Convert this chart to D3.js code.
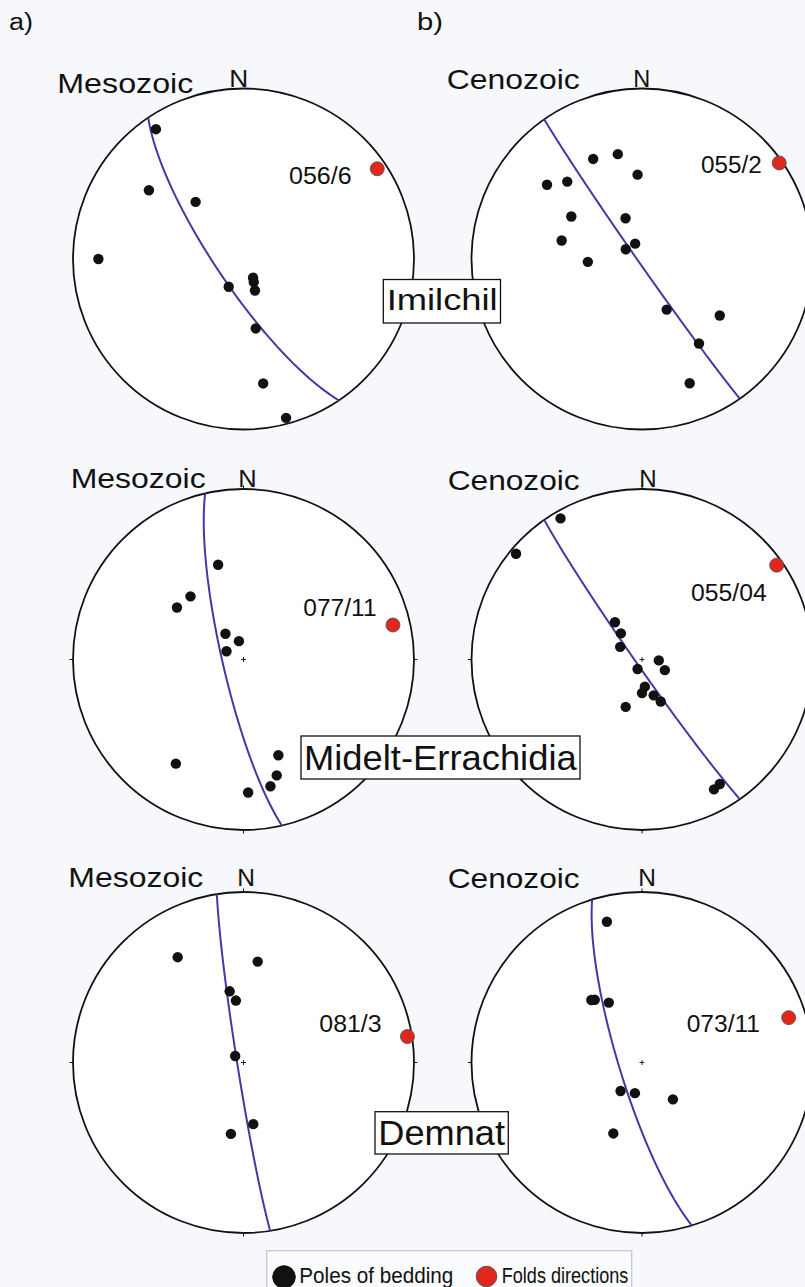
<!DOCTYPE html>
<html>
<head>
<meta charset="utf-8">
<script src="https://cdn.jsdelivr.net/npm/d3@7"></script>
<style>
  html, body { margin: 0; padding: 0; background: #f6f8fc; }
  svg { display: block; }
  text { font-family: "Liberation Sans", Arial, Helvetica, sans-serif; fill: #111; }
</style>
</head>
<body>
<svg id="chart" width="805" height="1287"></svg>
<script>
// ---- Data: poles to bedding as [trend, plunge] (degrees, lower hemisphere) ----
const imilchilMesozoic = [[326,9],[306,32],[320,54],[270,16],[208,75],[153,80],[156,78],[160,74],[170,56],[171,27],[165,4]];
const imilchilCenozoic = [[334,35],[347,37],[357,49],[308,30],[316,37],[301,50],[338,69],[283,50],[336,82],[301,81],[267,64],[154,63],[126,43],[146,40],[159,23]];
const mideltMesozoic   = [[345,42],[320,50],[308,49],[325,75],[346,81],[296,81],[213,28],[160,40],[164,30],[168,25],[178,23]];
const mideltCenozoic   = [[330,5],[310,4],[324,68],[321,74],[300,78],[205,85],[93,82],[115,78],[174,77],[180,74],[162,72],[156,68],[199,66],[148,15],[151,14]];
const demnatMesozoic   = [[328,28],[8,40],[349,55],[353,60],[308,85],[171,60],[190,55]];
const demnatCenozoic   = [[346,16],[321,51],[323,52],[331,57],[217,73],[193,75],[140,67],[202,53]];

// Fold axes (trend/plunge) and their labels, one per net
const foldAxes   = [[56,6],[55,2],[77,11],[55,4],[81,3],[73,11]];
const foldLabels = ["056/6","055/2","077/11","055/04","081/3","073/11"];

// Pi-girdles: pole of each best-fit great circle (trend/plunge)
const girdleAxes = [[56,13],[55,2],[77,10],[55,3],[81,3],[73,11]];

const regions      = ["Imilchil","Midelt-Errachidia","Demnat"];
const periods      = ["Mesozoic","Cenozoic"];
const panelLetters = ["a)","b)"];
const legendItems  = ["Poles of bedding","Folds directions"];

const polesByNet = [imilchilMesozoic, imilchilCenozoic, mideltMesozoic, mideltCenozoic, demnatMesozoic, demnatCenozoic];

// ---- Layout ----
const R = 170.5;
const colX = [243.5, 642];
const rowY = [259, 659.5, 1062.5];

const titleLayout = [
  {x:57.3,  y:92.7,  w:136}, {x:446.7, y:89.3,  w:133},
  {x:70.7,  y:488.3, w:135}, {x:447.7, y:490,   w:132},
  {x:68.3,  y:887.3, w:135}, {x:447.7, y:888.3, w:132}
];
const northLayout = [
  {x:229.3, y:87.3,  w:19},   {x:633.3, y:87.3,  w:17},
  {x:238.3, y:487.3, w:18.4}, {x:639.3, y:486.7, w:17.4},
  {x:237.3, y:886,   w:17.7}, {x:638.3, y:886,   w:17.7}
];
const foldLabelLayout = [
  {x:289,   y:184.3,  w:62.7}, {x:701,   y:173.3,  w:60.7},
  {x:303.3, y:615.7,  w:73.3}, {x:691,   y:601,    w:75.7},
  {x:319.3, y:1031.7, w:62.3}, {x:686.7, y:1031.7, w:73.3}
];
const regionLayout = [
  {x:383.3, y:279.5,  w:117.2, h:43.5, tx:386.7, ty:310,  tw:111,   fs:30},
  {x:301,   y:736,    w:279,   h:43,   tx:304,   ty:770,  tw:272.7, fs:35},
  {x:375,   y:1111.7, w:133.3, h:42.3, tx:378.3, ty:1145, tw:126.7, fs:35}
];

const svg = d3.select("#chart");
const girdleColor = "#4f33a3";
const foldColor = "#e1261c";

// trend/plunge -> geographic coords for a north-polar equal-area (Schmidt) net
const toGeo = ([trend, plunge]) => [180 - trend, plunge];

polesByNet.forEach((poles, i) => {
  const row = Math.floor(i / 2), col = i % 2;
  const cx = colX[col], cy = rowY[row];

  const projection = d3.geoAzimuthalEqualArea()
    .rotate([0, -90])
    .scale(R / Math.SQRT2)
    .translate([cx, cy])
    .clipAngle(90)
    .precision(0.1);
  const path = d3.geoPath(projection);

  const g = svg.append("g").attr("class", "net");

  // primitive circle
  g.append("circle")
    .attr("cx", cx).attr("cy", cy).attr("r", R)
    .attr("fill", "#fff").attr("stroke", "#111").attr("stroke-width", 1.8);

  // cardinal ticks and centre mark on the lower two rows
  if (row > 0) {
    [0, 90, 180, 270].forEach(az => {
      const a = az * Math.PI / 180;
      g.append("line")
        .attr("x1", cx + R * Math.sin(a)).attr("y1", cy - R * Math.cos(a))
        .attr("x2", cx + (R + 3.5) * Math.sin(a)).attr("y2", cy - (R + 3.5) * Math.cos(a))
        .attr("stroke", "#111").attr("stroke-width", 1);
    });
    g.append("path")
      .attr("d", `M${cx - 2.5},${cy}H${cx + 2.5}M${cx},${cy - 2.5}V${cy + 2.5}`)
      .attr("stroke", "#111").attr("stroke-width", 0.9);
  }

  // pi-girdle: great circle whose pole is the girdle axis
  const ring = d3.geoCircle().center(toGeo(girdleAxes[i])).radius(90).precision(0.5)();
  g.append("path")
    .datum({type: "LineString", coordinates: ring.coordinates[0]})
    .attr("d", path)
    .attr("fill", "none").attr("stroke", girdleColor).attr("stroke-width", 2);

  // poles of bedding
  g.selectAll("circle.pole").data(poles).join("circle")
    .attr("class", "pole")
    .attr("cx", d => projection(toGeo(d))[0])
    .attr("cy", d => projection(toGeo(d))[1])
    .attr("r", 5.2).attr("fill", "#111");

  // fold axis
  const fp = projection(toGeo(foldAxes[i]));
  g.append("circle")
    .attr("cx", fp[0]).attr("cy", fp[1]).attr("r", 7)
    .attr("fill", foldColor).attr("stroke", "#555").attr("stroke-width", 0.9);

  const fl = foldLabelLayout[i];
  g.append("text")
    .attr("x", fl.x).attr("y", fl.y)
    .attr("font-size", 23.5).attr("fill", "#222")
    .attr("textLength", fl.w).attr("lengthAdjust", "spacingAndGlyphs")
    .text(foldLabels[i]);

  // period title and north label
  const tl = titleLayout[i];
  g.append("text")
    .attr("x", tl.x).attr("y", tl.y)
    .attr("font-size", 28.5)
    .attr("textLength", tl.w).attr("lengthAdjust", "spacingAndGlyphs")
    .text(periods[col]);

  const nl = northLayout[i];
  g.append("text")
    .attr("x", nl.x).attr("y", nl.y)
    .attr("font-size", 23)
    .attr("textLength", nl.w).attr("lengthAdjust", "spacingAndGlyphs")
    .text("N");
});

// region name boxes, drawn over the nets
regions.forEach((name, i) => {
  const L = regionLayout[i];
  svg.append("rect")
    .attr("x", L.x).attr("y", L.y).attr("width", L.w).attr("height", L.h)
    .attr("fill", "#fff").attr("stroke", "#111").attr("stroke-width", 1.3);
  svg.append("text")
    .attr("x", L.tx).attr("y", L.ty)
    .attr("font-size", L.fs)
    .attr("textLength", L.tw).attr("lengthAdjust", "spacingAndGlyphs")
    .text(name);
});

// panel letters
const letterLayout = [{x:9, y:29.5, w:24}, {x:417, y:29.5, w:26}];
panelLetters.forEach((t, i) => {
  svg.append("text")
    .attr("x", letterLayout[i].x).attr("y", letterLayout[i].y)
    .attr("font-size", 23.5)
    .attr("textLength", letterLayout[i].w).attr("lengthAdjust", "spacingAndGlyphs")
    .text(t);
});

// legend
const legend = svg.append("g").attr("class", "legend");
legend.append("rect")
  .attr("x", 266.7).attr("y", 1250.7).attr("width", 365).attr("height", 60)
  .attr("fill", "#fafbfd").attr("stroke", "#c9c6dc").attr("stroke-width", 1.3);
const legendLayout = [
  {cx:284,   cy:1277,   r:11.3, fill:"#111",    stroke:"#111", tx:299.3, tw:154,   fs:22},
  {cx:486.5, cy:1276.5, r:10.3, fill:foldColor, stroke:"#555", tx:501.7, tw:126.7, fs:21.5}
];
legendItems.forEach((t, i) => {
  const L = legendLayout[i];
  legend.append("circle")
    .attr("cx", L.cx).attr("cy", L.cy).attr("r", L.r)
    .attr("fill", L.fill).attr("stroke", L.stroke).attr("stroke-width", 1);
  legend.append("text")
    .attr("x", L.tx).attr("y", 1282.5)
    .attr("font-size", L.fs)
    .attr("textLength", L.tw).attr("lengthAdjust", "spacingAndGlyphs")
    .text(t);
});
</script>
</body>
</html>
